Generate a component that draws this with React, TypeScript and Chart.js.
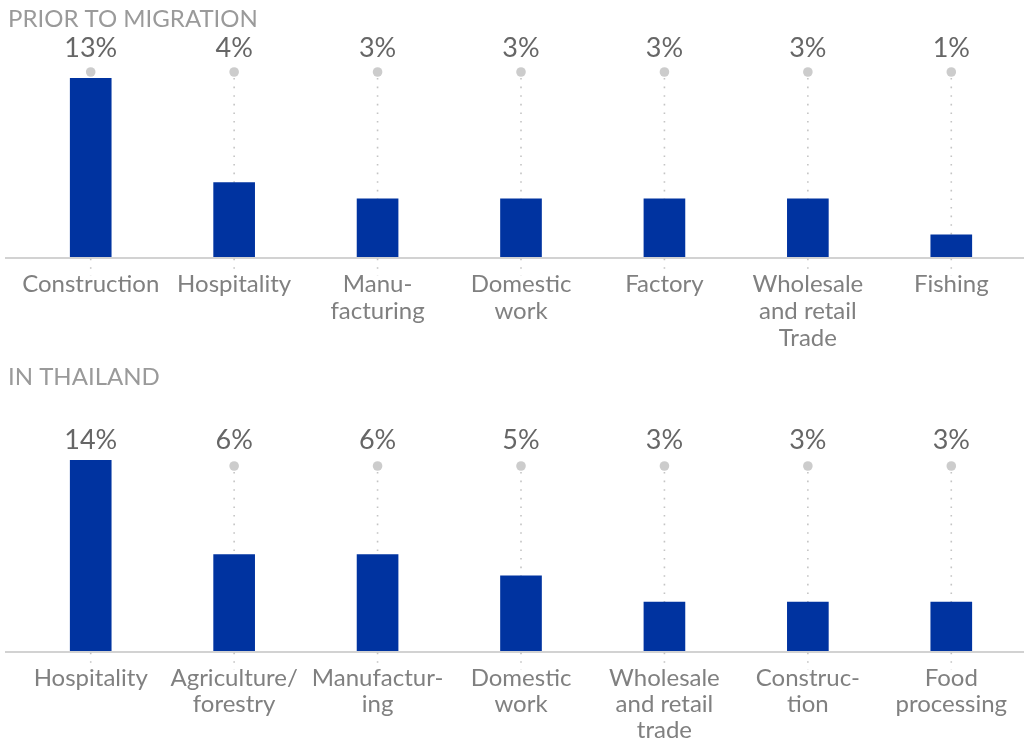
import React, { useEffect, useRef } from "react";
import { Chart, registerables } from "chart.js";

Chart.register(...registerables);

// ---- data ----
const priorTitle = "PRIOR TO MIGRATION";
const priorCategories = [
  ["Construction"],
  ["Hospitality"],
  ["Manu-", "facturing"],
  ["Domestic", "work"],
  ["Factory"],
  ["Wholesale", "and retail", "Trade"],
  ["Fishing"],
];
const priorValues = [13, 3.85, 3.0, 3.0, 3.0, 3.0, 1.15];
const priorAxisMax = 9.25;

const thaiTitle = "IN THAILAND";
const thaiCategories = [
  ["Hospitality"],
  ["Agriculture/", "forestry"],
  ["Manufactur-", "ing"],
  ["Domestic", "work"],
  ["Wholesale", "and retail", "trade"],
  ["Construc-", "tion"],
  ["Food", "processing"],
];
const thaiValues = [14, 5.9, 5.9, 4.6, 3.0, 3.0, 3.0];
const thaiAxisMax = 11.7;

const FONT = "Lato";
const BAR_COLOR = "#0033A0";

type PanelCfg = {
  title: string;
  categories: string[][];
  values: number[];
  max: number;
  width: number;
  height: number;
  plotTop: number;
  axisHeight: number;
  titleY: number;
  labelY: number;
  dotY: number;
  lineHeight: number;
};

function makeOverlay(cfg: PanelCfg) {
  return {
    id: "overlay",
    beforeDatasetsDraw(chart: any) {
      const ctx = chart.ctx;
      const area = chart.chartArea;
      const meta = chart.getDatasetMeta(0);
      ctx.save();
      // baseline
      ctx.strokeStyle = "#d2d2d2";
      ctx.lineWidth = 2;
      ctx.beginPath();
      ctx.moveTo(5, area.bottom + 1);
      ctx.lineTo(chart.width, area.bottom + 1);
      ctx.stroke();
      // dotted leader lines and dots
      meta.data.forEach((bar: any) => {
        ctx.strokeStyle = "#c4c4c4";
        ctx.lineWidth = 1.6;
        ctx.setLineDash([1.6, 7]);
        ctx.beginPath();
        ctx.moveTo(bar.x, cfg.dotY + 6);
        ctx.lineTo(bar.x, area.bottom + 19);
        ctx.stroke();
        ctx.setLineDash([]);
        ctx.fillStyle = "#cccccc";
        ctx.beginPath();
        ctx.arc(bar.x, cfg.dotY, 4.8, 0, Math.PI * 2);
        ctx.fill();
      });
      ctx.restore();
    },
    afterDraw(chart: any) {
      const ctx = chart.ctx;
      const meta = chart.getDatasetMeta(0);
      const data = chart.data.datasets[0].data as number[];
      ctx.save();
      // title
      ctx.fillStyle = "#9a9a9a";
      ctx.font = `24px ${FONT}`;
      ctx.textAlign = "left";
      ctx.textBaseline = "middle";
      ctx.fillText(cfg.title, 8, cfg.titleY);
      // value labels
      ctx.fillStyle = "#666666";
      ctx.font = `27px ${FONT}`;
      ctx.textAlign = "center";
      meta.data.forEach((bar: any, i: number) => {
        ctx.fillText(`${Math.round(data[i])}%`, bar.x, cfg.labelY);
      });
      ctx.restore();
    },
  };
}

function Panel({ cfg }: { cfg: PanelCfg }) {
  const ref = useRef<HTMLCanvasElement | null>(null);
  useEffect(() => {
    if (!ref.current) return;
    const chart = new Chart(ref.current, {
      type: "bar",
      data: {
        labels: cfg.categories,
        datasets: [
          {
            data: cfg.values,
            backgroundColor: BAR_COLOR,
            barThickness: 41,
            clip: 0,
          } as any,
        ],
      },
      options: {
        animation: false,
        responsive: false,
        maintainAspectRatio: false,
        layout: { padding: { left: 19, right: 1, top: cfg.plotTop, bottom: 0 } },
        plugins: {
          legend: { display: false },
          tooltip: { enabled: false },
        },
        scales: {
          x: {
            grid: { display: false, drawTicks: false },
            border: { display: false },
            ticks: {
              autoSkip: false,
              maxRotation: 0,
              color: "#808080",
              padding: 14,
              font: { family: FONT, size: 24, lineHeight: cfg.lineHeight / 24 },
            },
            afterFit: (scale: any) => {
              scale.height = cfg.axisHeight;
            },
          },
          y: { display: false, min: 0, max: cfg.max },
        },
      },
      plugins: [makeOverlay(cfg)],
    });
    return () => chart.destroy();
  }, [cfg]);
  return (
    <canvas
      ref={ref}
      width={cfg.width}
      height={cfg.height}
      style={{ display: "block", width: cfg.width, height: cfg.height }}
    />
  );
}

const topCfg: PanelCfg = {
  title: priorTitle,
  categories: priorCategories,
  values: priorValues,
  max: priorAxisMax,
  width: 1024,
  height: 355,
  plotTop: 78,
  axisHeight: 355 - 257,
  titleY: 19,
  labelY: 48,
  dotY: 72,
  lineHeight: 27,
};

const bottomCfg: PanelCfg = {
  title: thaiTitle,
  categories: thaiCategories,
  values: thaiValues,
  max: thaiAxisMax,
  width: 1024,
  height: 387,
  plotTop: 105,
  axisHeight: 387 - 296,
  titleY: 22,
  labelY: 85,
  dotY: 111,
  lineHeight: 26,
};

export default function App() {
  return (
    <div
      style={{
        position: "fixed",
        left: 0,
        top: 0,
        width: 1024,
        height: 742,
        background: "#ffffff",
        overflow: "hidden",
      }}
    >
      <Panel cfg={topCfg} />
      <Panel cfg={bottomCfg} />
    </div>
  );
}
